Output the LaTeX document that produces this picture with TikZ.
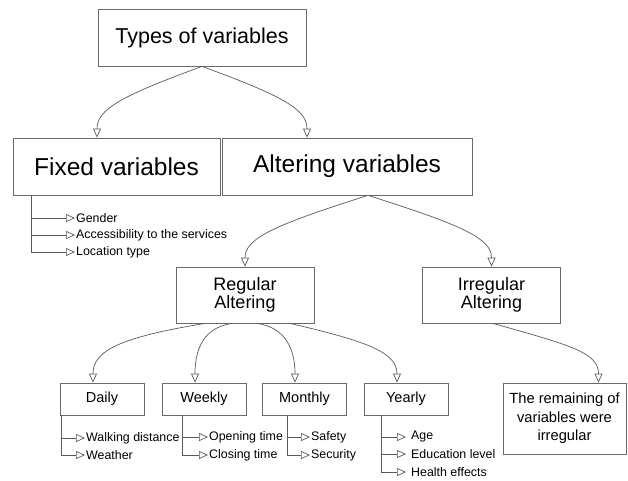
\documentclass[tikz,border=0pt]{standalone}
\usepackage{fontspec}
\setmainfont{Liberation Sans}
\usepackage{xcolor}
\usetikzlibrary{arrows.meta, positioning, calc}
\definecolor{linegray}{HTML}{5A5A5A}
\definecolor{boxgray}{HTML}{6A6A6A}

\begin{document}
\begin{tikzpicture}[x=1pt, y=-1pt,
  box/.style={rectangle, draw=boxgray, line width=0.8pt, align=center, inner sep=0pt},
  big/.style={minimum height=57pt, font=\fontsize{24.5}{28}\selectfont},
  mid/.style={minimum width=138pt, minimum height=56pt, font=\fontsize{18}{15}\selectfont},
  small/.style={minimum width=84pt, minimum height=32pt, font=\fontsize{14.5}{17}\selectfont},
  tip/.style={draw=linegray, line width=0.7pt, -{Triangle[open, length=9pt, width=8pt]}},
  item/.style={anchor=west, inner sep=1pt, font=\fontsize{12.4}{14}\selectfont}
]
 \useasboundingbox (0,0) rectangle (628,480);

 % Boxes
 \node[box, minimum width=208pt, minimum height=57pt, font=\fontsize{21.5}{25}\selectfont] (types) at (202,37.5) {Types of variables};
 \node[box, big, minimum width=207pt] (fixed) at (116.5,166.5) {Fixed variables};
 \node[box, big, minimum width=250pt] (alter) at (347,166.5) {Altering variables};
 \node[box, mid] (regular) at (245,295) {Regular\\Altering};
 \node[box, mid] (irregular) at (491.5,295) {Irregular\\Altering};
 \node[box, small] (daily) at (102,399) {Daily};
 \node[box, small] (weekly) at (204,399) {Weekly};
 \node[box, small] (monthly) at (304.5,399) {Monthly};
 \node[box, small] (yearly) at (406,399) {Yearly};
 \node[box, minimum width=123pt, minimum height=71pt, font=\fontsize{14.7}{18.5}\selectfont] (remain) at (564.5,418.5) {The remaining of\\variables were\\irregular};

 % Curved arrows
 \draw[tip] (types.south) .. controls +(-82,30) and +(0,-28) .. ([xshift=-19.5pt]fixed.north);
 \draw[tip] (types.south) .. controls +(82,30) and +(0,-28) .. ([xshift=-40pt]alter.north);
 \draw[tip] ([xshift=21pt]alter.south) .. controls +(-95,30) and +(0,-28) .. (regular.north);
 \draw[tip] ([xshift=21pt]alter.south) .. controls +(95,30) and +(0,-28) .. (irregular.north);
 \draw[tip] ([xshift=-40pt]regular.south) .. controls +(-85,14) and +(0,-32) .. ([xshift=-9pt]daily.north);
 \draw[tip] ([xshift=-13pt]regular.south) .. controls +(-28,4) and +(0,-34) .. ([xshift=-9pt]weekly.north);
 \draw[tip] ([xshift=12pt]regular.south) .. controls +(28,4) and +(0,-34) .. ([xshift=-9.5pt]monthly.north);
 \draw[tip] ([xshift=45pt]regular.south) .. controls +(78,18) and +(0,-30) .. ([xshift=-9pt]yearly.north);
 \draw[tip] ([xshift=1.5pt]irregular.south) .. controls +(78,22) and +(0,-30) .. ([xshift=34pt]remain.north);

 % Lists
 \node[item] (gender) at (75,218) {Gender};
 \node[item] (access) at (75,235) {Accessibility to the services};
 \node[item] (location) at (75,252) {Location type};
 \foreach \n in {gender, access, location}
   \draw[tip] ([xshift=19pt]fixed.south west) |- (\n);

 \node[item] (walking) at (85,438) {Walking distance};
 \node[item] (weather) at (85,455) {Weather};
 \foreach \n in {walking, weather}
   \draw[tip] ([xshift=2pt]daily.south west) |- (\n);

 \node[item] (opening) at (208,437) {Opening time};
 \node[item] (closing) at (208,455) {Closing time};
 \foreach \n in {opening, closing}
   \draw[tip] ([xshift=21pt]weekly.south west) |- (\n);

 \node[item] (safety) at (310,437) {Safety};
 \node[item] (security) at (310,455) {Security};
 \foreach \n in {safety, security}
   \draw[tip] ([xshift=25pt]monthly.south west) |- (\n);

 \node[item, inner xsep=5pt] (age) at (406,437) {Age};
 \node[item, inner xsep=5pt] (education) at (406,454) {Education level};
 \node[item, inner xsep=5pt] (health) at (406,472) {Health effects};
 \foreach \n in {age, education, health}
   \draw[tip] ([xshift=18pt]yearly.south west) |- (\n);

\end{tikzpicture}
\end{document}
